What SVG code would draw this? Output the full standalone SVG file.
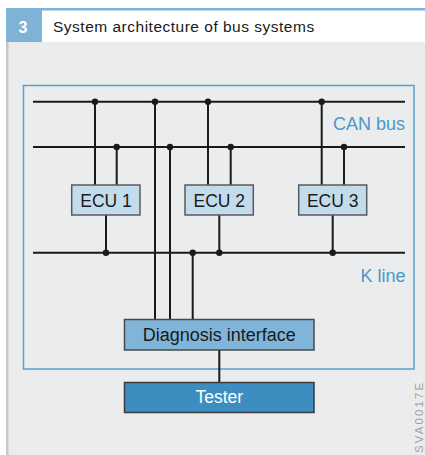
<svg xmlns="http://www.w3.org/2000/svg" width="425" height="455" viewBox="0 0 425 455">
<style>
.t{font-family:"Liberation Sans",Arial,Helvetica,sans-serif}
.wire{stroke:#1a1a1a;stroke-width:2;fill:none}
.dot{fill:#1a1a1a}
.ecu{fill:#c3dcec;stroke:#5a5a5a;stroke-width:1.5}
.lbl{font-size:17.5px;fill:#1a1a1a;text-anchor:middle}
.blue{font-size:18px;fill:#4a97c9;text-anchor:end}
</style>
<rect x="0" y="0" width="425" height="455" fill="#ffffff"/>
<rect x="6" y="42" width="419" height="413" fill="#ebeced"/>
<rect x="6" y="42" width="2.5" height="413" fill="#c6c7c8"/>
<rect x="6" y="8" width="419" height="2.5" fill="#7fb3d5"/>
<rect x="6" y="8" width="36" height="34" fill="#7fb3d5"/>
<text class="t" x="23" y="33" font-size="16" font-weight="bold" fill="#ffffff" text-anchor="middle">3</text>
<text class="t" x="53" y="31.5" font-size="15.5" letter-spacing="0.5" fill="#1a1a1a">System architecture of bus systems</text>
<rect x="23.5" y="85.5" width="390.5" height="283.5" fill="none" stroke="#5aa0cf" stroke-width="1.5"/>
<g id="connectors">
<line class="wire" x1="33" y1="101.7" x2="405" y2="101.7"/>
<line class="wire" x1="33" y1="147" x2="405" y2="147"/>
<line class="wire" x1="33" y1="252.7" x2="405" y2="252.7"/>
<line class="wire" x1="95" y1="101.7" x2="95" y2="185"/>
<line class="wire" x1="116.7" y1="147" x2="116.7" y2="185"/>
<line class="wire" x1="106" y1="215" x2="106" y2="252.7"/>
<line class="wire" x1="208" y1="101.7" x2="208" y2="185"/>
<line class="wire" x1="230.7" y1="147" x2="230.7" y2="185"/>
<line class="wire" x1="219.3" y1="215" x2="219.3" y2="252.7"/>
<line class="wire" x1="321.7" y1="101.7" x2="321.7" y2="185"/>
<line class="wire" x1="344" y1="147" x2="344" y2="185"/>
<line class="wire" x1="332.7" y1="215" x2="332.7" y2="252.7"/>
<line class="wire" x1="155" y1="101.7" x2="155" y2="319.5"/>
<line class="wire" x1="170" y1="147" x2="170" y2="319.5"/>
<line class="wire" x1="192.7" y1="252.7" x2="192.7" y2="319.5"/>
<line class="wire" x1="219.3" y1="350" x2="219.3" y2="382.5" stroke-width="1.6"/>
<circle class="dot" cx="95" cy="101.7" r="3.2"/>
<circle class="dot" cx="155" cy="101.7" r="3.2"/>
<circle class="dot" cx="208" cy="101.7" r="3.2"/>
<circle class="dot" cx="321.7" cy="101.7" r="3.2"/>
<circle class="dot" cx="116.7" cy="147" r="3.2"/>
<circle class="dot" cx="170" cy="147" r="3.2"/>
<circle class="dot" cx="230.7" cy="147" r="3.2"/>
<circle class="dot" cx="344" cy="147" r="3.2"/>
<circle class="dot" cx="106" cy="252.7" r="3.2"/>
<circle class="dot" cx="192.7" cy="252.7" r="3.2"/>
<circle class="dot" cx="219.3" cy="252.7" r="3.2"/>
<circle class="dot" cx="332.7" cy="252.7" r="3.2"/>
</g>
<g id="can-bus-label"><text class="t blue" x="405" y="130">CAN bus</text></g>
<g id="k-line-label"><text class="t blue" x="405.5" y="281.7">K line</text></g>
<g id="ecu1">
<rect class="ecu" x="71.7" y="185" width="68.3" height="30"/>
<text class="t lbl" x="106" y="206.7">ECU 1</text>
</g>
<g id="ecu2">
<rect class="ecu" x="185" y="185" width="68.3" height="30"/>
<text class="t lbl" x="219.3" y="206.7">ECU 2</text>
</g>
<g id="ecu3">
<rect class="ecu" x="298.7" y="185" width="68" height="30"/>
<text class="t lbl" x="332.7" y="206.7">ECU 3</text>
</g>
<g id="diagnosis-interface">
<rect x="124.5" y="319.5" width="189.5" height="30.5" fill="#80b5d9" stroke="#4a4a4a" stroke-width="1.5"/>
<text class="t" x="219.3" y="340.7" font-size="18" fill="#1a1a1a" text-anchor="middle">Diagnosis interface</text>
</g>
<g id="tester">
<rect x="124.5" y="382.5" width="189.5" height="30" fill="#3c8dc0" stroke="#3a3a3a" stroke-width="1.5"/>
<text class="t" x="219.3" y="403.3" font-size="17.5" fill="#ffffff" text-anchor="middle">Tester</text>
</g>
<text class="t" transform="translate(422.5,453) rotate(-90)" x="0" y="0" font-size="11.5" letter-spacing="2.1" fill="#a0a0a0">SVA0017E</text>
</svg>
